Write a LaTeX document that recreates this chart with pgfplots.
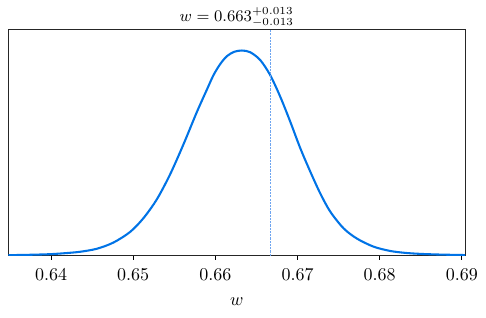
\documentclass[border=0pt]{standalone}
\usepackage{pgfplots}
\pgfplotsset{compat=1.18}
\definecolor{curveblue}{RGB}{0,115,230}
\definecolor{lineblue}{RGB}{110,165,240}
\begin{document}
\begin{tikzpicture}
\useasboundingbox (-4.6pt,-34.1pt) rectangle (265.4pt,142.1pt);
\begin{axis}[
  at={(0,0)}, anchor=south west,
  scale only axis,
  width=253.8pt, height=125.7pt,
  xmin=0.6348, xmax=0.6904,
  ymin=0.3, ymax=226.5,
  xtick={0.64,0.65,0.66,0.67,0.68,0.69},
  xticklabels={0.64,0.65,0.66,0.67,0.68,0.69},
  ytick=\empty,
  tick align=outside,
  xtick pos=bottom,
  major tick length=2.2pt,
  every tick/.style={black, line width=0.45pt},
  axis line style={black!85, line width=0.6pt},
  xticklabel style={font=\fontsize{10}{12}\selectfont, anchor=base, yshift=-11.7pt},
  xlabel={$w$},
  xlabel style={at={(axis description cs:0.5,0)}, anchor=base, yshift=-27.4pt, font=\fontsize{10.3}{12}\selectfont, inner sep=0pt},
  every axis title shift=0pt,
  title={$w = 0.663^{+0.013}_{-0.013}$},
  title style={at={(axis description cs:0.5,1)}, anchor=south, yshift=1.2pt, inner sep=0pt, font=\fontsize{9.2}{11}\selectfont},
  clip=true,
]
\addplot[curveblue, line width=1.15pt, smooth] table {
x y
0.63480 0.9
0.63744 1.3
0.63988 1.9
0.64171 2.9
0.64353 4.3
0.64557 7.3
0.64759 13.5
0.64962 24.1
0.65124 37.8
0.65287 56.6
0.65449 81.6
0.65611 111.5
0.65775 144
0.65896 166.2
0.65977 180.8
0.66058 191.8
0.66140 199.8
0.66229 204.2
0.66323 205.5
0.66424 203.8
0.66546 196
0.66667 181
0.66789 159.5
0.66911 134.5
0.67033 108
0.67155 84.5
0.67276 62.8
0.67398 44.5
0.67560 27.8
0.67723 17.5
0.67926 9.4
0.68129 5.1
0.68312 3.2
0.68494 2.2
0.68738 1.5
0.69043 1.0
};
\addplot[lineblue, line width=0.4pt, dash pattern=on 1.2pt off 0.6pt] coordinates {(0.66667,0.3) (0.66667,226.5)};
\end{axis}
\end{tikzpicture}
\end{document}
